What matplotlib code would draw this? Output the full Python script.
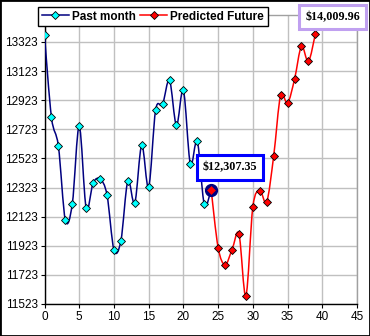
import numpy as np
import matplotlib
matplotlib.use("Agg")
import matplotlib.pyplot as plt
from matplotlib.path import Path
from matplotlib.patches import PathPatch, Rectangle
from matplotlib.lines import Line2D

# closing prices for the past month and the forecast that follows it
past_days = list(range(0, 25))
past_price = [13368, 12806, 12607, 12100, 12210, 12744, 12183, 12354, 12381,
              12272, 11895, 11957, 12368, 12217, 12614, 12326, 12855, 12894,
              13059, 12751, 12991, 12485, 12641, 12210, 12307.35]
future_days = list(range(24, 40))
future_price = [12307.35, 11911, 11792, 11895, 12004, 11580, 12189, 12302,
                12226, 12539, 12957, 12902, 13066, 13292, 13189, 13377]
target_price = 14009.96

y_ticks = [11523 + 200 * i for i in range(10)]
x_ticks = list(range(0, 50, 5))

plt.rcParams['font.family'] = ['Liberation Sans', 'DejaVu Sans']


def smooth_path(xs, ys):
    # cubic bezier through every point, Catmull-Rom style control points
    pts = np.column_stack([xs, ys]).astype(float)
    n = len(pts)
    verts = [pts[0]]
    codes = [Path.MOVETO]
    for i in range(n - 1):
        p0 = pts[max(i - 1, 0)]
        p1 = pts[i]
        p2 = pts[i + 1]
        p3 = pts[min(i + 2, n - 1)]
        c1 = p1 + (p2 - p0) / 6.0
        c2 = p2 - (p3 - p1) / 6.0
        verts += [c1, c2, p2]
        codes += [Path.CURVE4] * 3
    return Path(verts, codes)


fig = plt.figure(figsize=(3.70, 3.36), dpi=100)
ax = fig.add_axes([44.5 / 370, 1 - 304 / 336, (357 - 44.5) / 370, (304 - 15) / 336])

navy = '#000080'
ax.add_patch(PathPatch(smooth_path(past_days, past_price), fill=False,
                       edgecolor=navy, lw=1.1, zorder=3))
ax.add_patch(PathPatch(smooth_path(future_days, future_price), fill=False,
                       edgecolor='#ff0000', lw=1.1, zorder=3))
ax.plot(past_days, past_price, ls='none', marker='D', ms=4.2,
        mfc='#00ffff', mec='black', mew=0.6, zorder=4)
ax.plot(future_days, future_price, ls='none', marker='D', ms=4.2,
        mfc='#ff0000', mec='black', mew=0.6, zorder=4)
# highlight where the forecast starts
ax.plot(future_days[0], future_price[0], ls='none', marker='o', ms=8.5,
        mfc=navy, mec=navy, zorder=5)
ax.plot(future_days[0], future_price[0], ls='none', marker='D', ms=4.2,
        mfc='#ff0000', mec='#ff0000', mew=0.4, zorder=6)

ax.set_xlim(0, 45)
ax.set_ylim(11523, 13508)
ax.set_xticks(x_ticks)
ax.set_yticks(y_ticks)
ax.tick_params(labelsize=8.5, length=3, width=0.8, colors='black', pad=2)
ax.grid(True, color='#c0c0c0', lw=1)
ax.set_axisbelow(True)
for side in ('left', 'bottom'):
    ax.spines[side].set_color('black')
    ax.spines[side].set_linewidth(1)
for side in ('top', 'right'):
    ax.spines[side].set_color('#a0a0a0')
    ax.spines[side].set_linewidth(1)

box_font = dict(family=['Liberation Serif', 'DejaVu Serif'], fontweight='bold',
                fontsize=8.7)
start_label = ax.annotate(f"${future_price[0]:,.2f}",
                          xy=(future_days[0], future_price[0]),
                          xytext=(230 / 370, 1 - 167.5 / 336),
                          textcoords='figure fraction', ha='center',
                          va='center', zorder=7,
                          bbox=dict(boxstyle='square,pad=0.5', fc='white',
                                    ec='#0000ff', lw=2.2))
start_label.set(**box_font)
fig.text(332.5 / 370, 1 - 17 / 336, f"${target_price:,.2f}", ha='center',
         va='center', zorder=7, **box_font,
         bbox=dict(boxstyle='square,pad=0.5', fc='white', ec='#c0a0f0', lw=2.2))

handles = [
    Line2D([], [], color=navy, lw=1.1, marker='D', ms=4.2, mfc='#00ffff',
           mec='black', mew=0.6),
    Line2D([], [], color='#ff0000', lw=1.1, marker='D', ms=4.2, mfc='#ff0000',
           mec='black', mew=0.6),
]
leg = fig.legend(handles, ['Past month', 'Predicted Future'], ncol=2,
                 loc='upper left', bbox_to_anchor=(38 / 370, 1 - 7 / 336),
                 frameon=True, fancybox=False, framealpha=1, edgecolor='black',
                 prop=dict(weight='bold', size=8.5), handlelength=2.3,
                 handletextpad=0.25, columnspacing=0.4, borderpad=0.3,
                 borderaxespad=0)
leg.get_frame().set_linewidth(1)
leg.set_zorder(8)

fig.add_artist(Rectangle((0, 0), 1, 1, transform=fig.transFigure, fill=False,
                         ec='black', lw=2))

fig.savefig('out.png', dpi=100, facecolor='white')
